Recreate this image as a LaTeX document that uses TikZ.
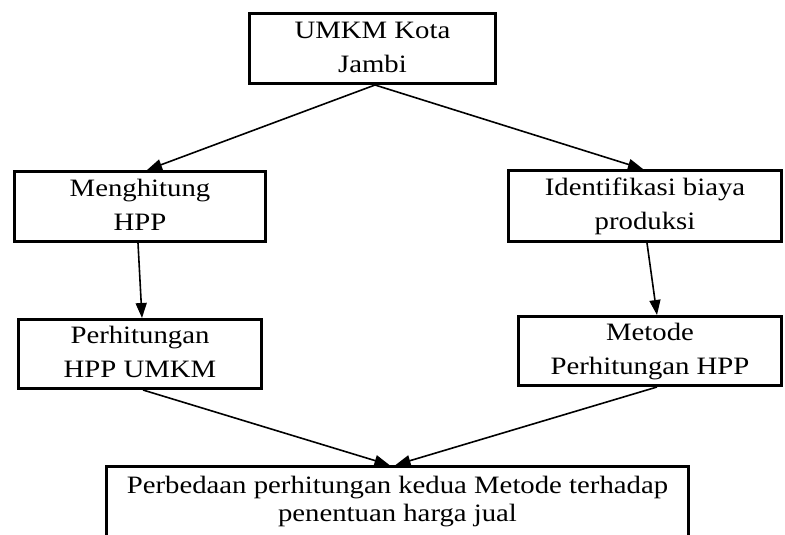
\documentclass[tikz,border=0pt]{standalone}
\usepackage{fontspec}
\setmainfont{Liberation Serif}[FakeStretch=1.15]
\usetikzlibrary{arrows.meta}
\begin{document}
\begin{tikzpicture}[x=1pt,y=-1pt,
  box/.style={draw=black, line width=2.6pt, fill=white, inner sep=0pt, align=center, font=\fontsize{25}{34}\selectfont},
  conn/.style={line width=1.6pt, -{Triangle[length=15pt,width=11pt]}}]
\useasboundingbox (0,0) rectangle (785,535);
\clip (0,0) rectangle (785,535);
\node[box, minimum width=246.4pt, minimum height=70.4pt] (umkm) at (372.5,48.5) {\strut UMKM Kota\\\strut Jambi};
\node[box, minimum width=251.4pt, minimum height=70.4pt] (mh) at (140,206.5) {\strut Menghitung\\\strut HPP};
\node[box, minimum width=273.4pt, minimum height=71.4pt] (id) at (645,206) {\strut Identifikasi biaya\\\strut produksi};
\node[box, minimum width=243.4pt, minimum height=69.4pt] (ph) at (140,354) {\strut Perhitungan\\\strut HPP UMKM};
\node[box, minimum width=263.4pt, minimum height=69.4pt] (mp) at (650,351) {\strut Metode\\\strut Perhitungan HPP};
\node[box, font=\fontsize{25}{28}\selectfont, minimum width=582.4pt, minimum height=70.2pt] (bot) at (397.5,501.4) {\strut Perbedaan perhitungan kedua Metode terhadap\\\strut penentuan harga jual};
\draw[conn] ([xshift=2.5pt]umkm.south) -- ([xshift=7pt]mh.north);
\draw[conn] ([xshift=2.5pt]umkm.south) -- ([xshift=-2pt]id.north);
\draw[conn] ([xshift=-2pt]mh.south) -- ([xshift=2pt]ph.north);
\draw[conn] ([xshift=2pt]id.south) -- ([xshift=7pt]mp.north);
\draw[conn] ([xshift=3pt]ph.south) -- ([xshift=-8pt]bot.north);
\draw[conn] ([xshift=7pt]mp.south) -- ([xshift=-2pt]bot.north);
\end{tikzpicture}
\end{document}
